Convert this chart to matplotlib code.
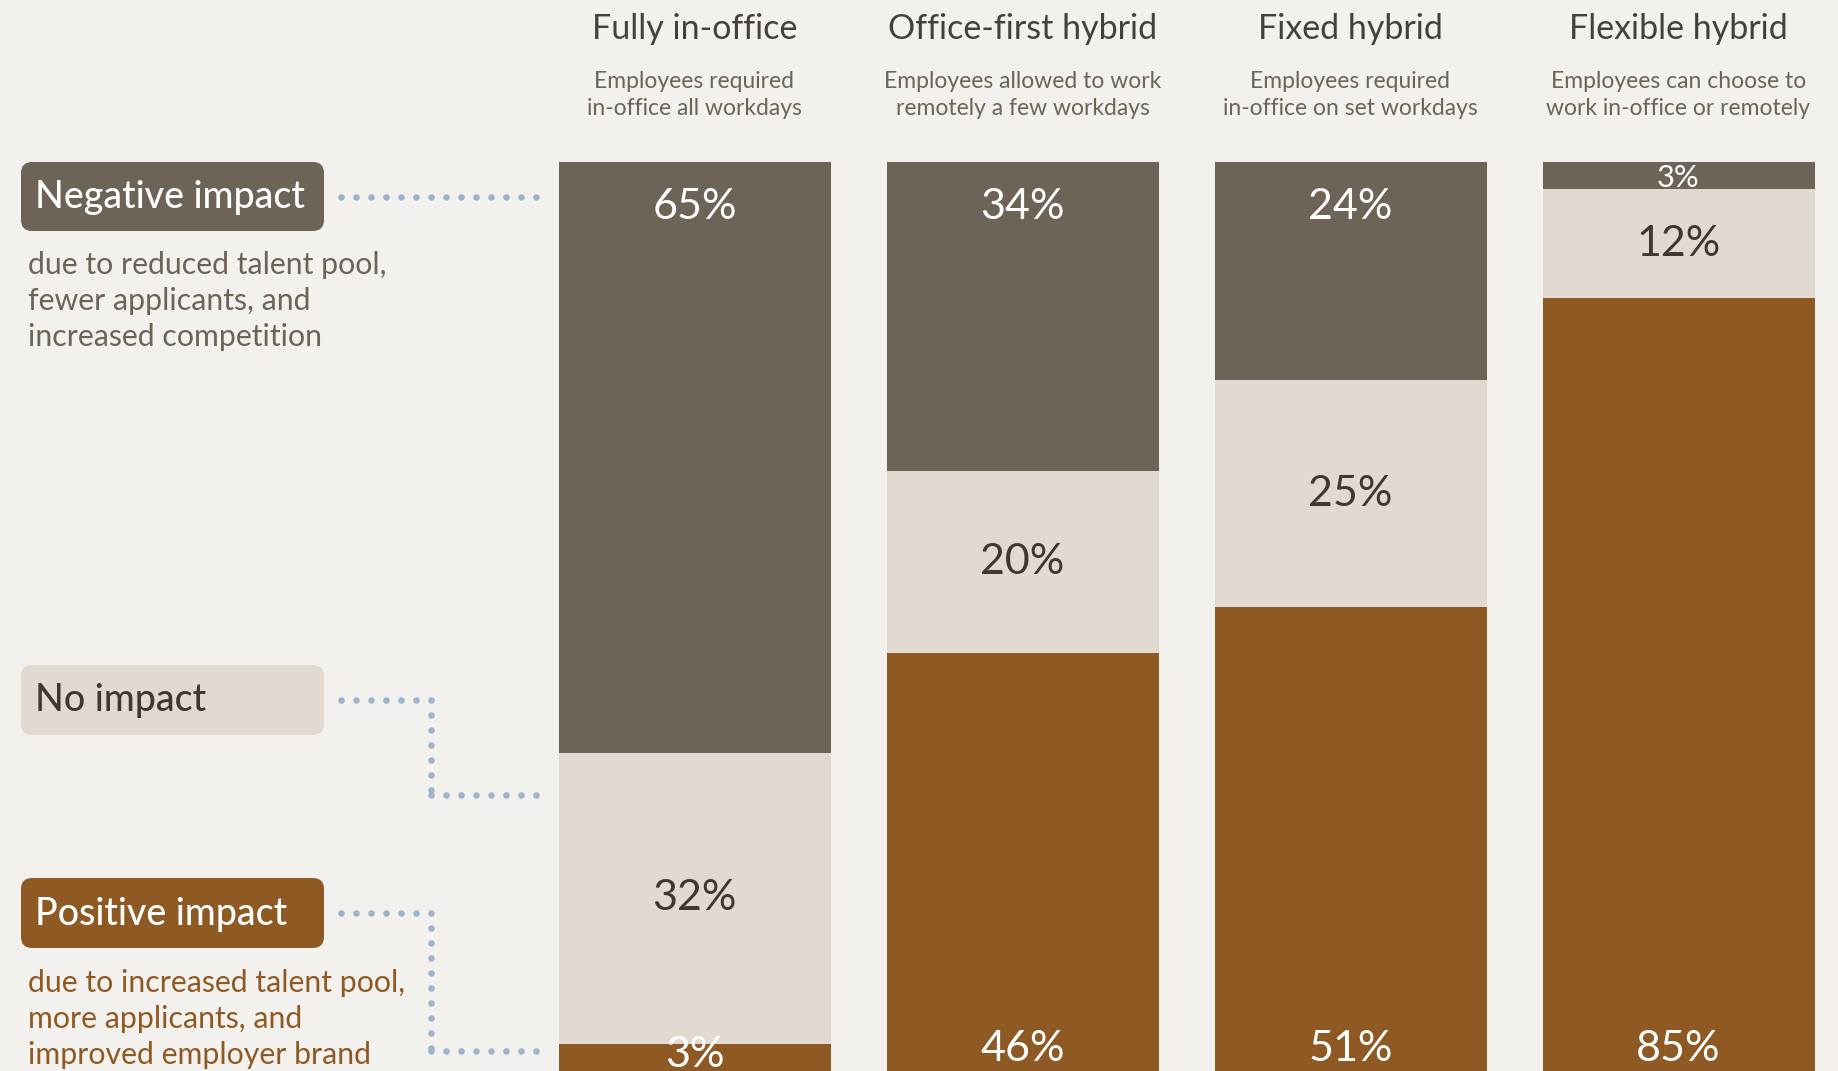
import numpy as np
import matplotlib
matplotlib.use("Agg")
import matplotlib.pyplot as plt
from matplotlib.patches import FancyBboxPatch

# ---- data ----
categories = ["Fully in-office", "Office-first hybrid", "Fixed hybrid", "Flexible hybrid"]
subtitles = ["Employees required\nin-office all workdays",
             "Employees allowed to work\nremotely a few workdays",
             "Employees required\nin-office on set workdays",
             "Employees can choose to\nwork in-office or remotely"]
negative = [65, 34, 24, 3]
no_impact = [32, 20, 25, 12]
positive = [3, 46, 51, 85]

series_names = ["Negative impact", "No impact", "Positive impact"]
neg_desc = "due to reduced talent pool,\nfewer applicants, and\nincreased competition"
pos_desc = "due to increased talent pool,\nmore applicants, and\nimproved employer brand"

# ---- style ----
BG = "#f3f1ed"
C_NEG = "#6d6356"
C_NONE = "#e2dad1"
C_POS = "#8f5924"
C_DARK = "#3e3831"
C_DOT = "#9db3cb"
FONT = ["Lato", "DejaVu Sans"]
plt.rcParams["font.family"] = FONT

W, H = 1838, 1071
fig = plt.figure(figsize=(W / 100, H / 100), dpi=100, facecolor=BG)

# bar axes: 0% at y=162px, 100% at bottom of figure
top_px = 162
ax = fig.add_axes([530.5 / W, 0, 1312 / W, (H - top_px) / H])
ax.set_facecolor("none")
ax.set_xlim(-0.5, 3.5)
ax.set_ylim(100, 0)
ax.axis("off")

x = np.arange(len(categories))
bw = 272 / 328
neg = np.array(negative)
non = np.array(no_impact)
pos = np.array(positive)
ax.bar(x, neg, bottom=0, width=bw, color=C_NEG, linewidth=0)
ax.bar(x, non, bottom=neg, width=bw, color=C_NONE, linewidth=0)
ax.bar(x, pos, bottom=neg + non, width=bw, color=C_POS, linewidth=0)

pct_size = 31
px_per_pct = (H - top_px) / 100.0
for i in range(len(categories)):
    band_px = neg[i] * px_per_pct
    if band_px > 60:
        ax.text(x[i], 4.9, f"{neg[i]}%", ha="center", va="center",
                color="white", fontsize=pct_size)
    else:
        fs = min(pct_size, (band_px - 5) / (1.389 * 0.72))
        ax.text(x[i], neg[i] - 2.5 / px_per_pct, f"{neg[i]}%", ha="center",
                va="baseline", color="white", fontsize=fs)
    ax.text(x[i], neg[i] + non[i] / 2, f"{non[i]}%", ha="center", va="center",
            color=C_DARK, fontsize=pct_size)
    y_bot = min(max(neg[i] + non[i] + pos[i] / 2, 97.6), 98.2)
    ax.text(x[i], y_bot, f"{pos[i]}%", ha="center", va="center",
            color="white", fontsize=pct_size)

# overlay axes in pixel coordinates
ov = fig.add_axes([0, 0, 1, 1])
ov.set_xlim(0, W)
ov.set_ylim(H, 0)
ov.axis("off")
ov.set_facecolor("none")

# headers
centers_px = [694.5, 1022.5, 1350.5, 1678.5]
for c, t, s in zip(centers_px, categories, subtitles):
    ov.text(c, 29, t, ha="center", va="center", fontsize=24.5,
            color="#46403a")
    ov.text(c, 95, s, ha="center", va="center", fontsize=16.5,
            color=C_NEG, linespacing=1.3)

# legend boxes
boxes = [(162, 231, C_NEG, "white"), (665, 735, C_NONE, C_DARK), (878, 948, C_POS, "white")]
for (y0, y1, fc, tc), name in zip(boxes, series_names):
    p = FancyBboxPatch((21, y0), 303, y1 - y0,
                       boxstyle="round,pad=0,rounding_size=11",
                       fc=fc, ec="none")
    ov.add_patch(p)
    ov.text(35, (y0 + y1) / 2 + 1, name, ha="left", va="center", fontsize=27,
            fontweight="medium", color=tc)

ov.text(28, 301, neg_desc, ha="left", va="center", fontsize=21.8,
        color=C_NEG, linespacing=1.35)
ov.text(28, 1019, pos_desc, ha="left", va="center", fontsize=21.8,
        color=C_POS, linespacing=1.35)

# dotted connectors
def dots(xs, ys):
    ov.scatter(xs, ys, s=22, color=C_DOT, linewidths=0, zorder=3)

step = 15
hx = np.arange(341, 540, 15)
dots(hx, np.full_like(hx, 197))
for ya, yb in [(700, 795), (913, 1051)]:
    h1 = np.arange(341, 431, step)
    dots(h1, np.full_like(h1, ya))
    v = np.arange(ya, yb, step)
    dots(np.full_like(v, 431), v)
    h2 = np.arange(431, 540, step)
    dots(h2, np.full_like(h2, yb))

fig.savefig("out.png", dpi=100, facecolor=BG)
